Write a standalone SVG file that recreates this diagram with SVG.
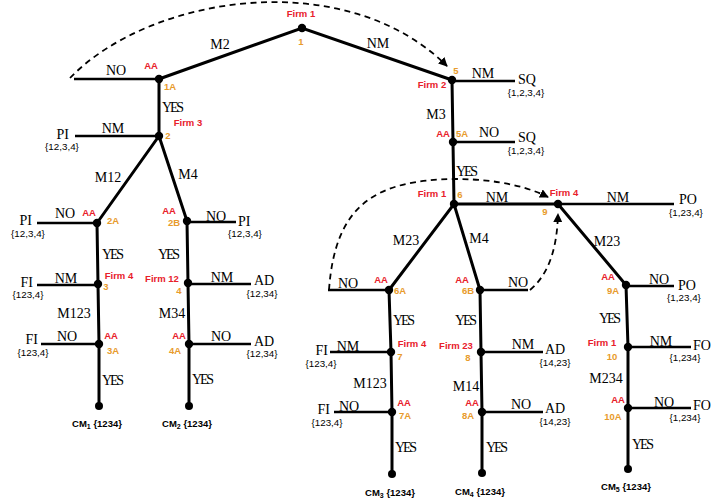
<svg xmlns="http://www.w3.org/2000/svg" width="714" height="501" viewBox="0 0 714 501">
<style>
  .e{stroke:#000;stroke-width:3;fill:none;stroke-linecap:round}
  .l{stroke:#000;stroke-width:2.5;fill:none}
  .d{stroke:#000;stroke-width:1.8;fill:none;stroke-dasharray:6 4.5}
  .dot{fill:#000}
  .t{font-family:"Liberation Serif","Times New Roman",serif;font-size:14px;fill:#000}
  .m{text-anchor:middle}
  .set{font-family:"Liberation Sans",Arial,sans-serif;font-size:9.8px;fill:#000;text-anchor:middle}
  .f{font-family:"Liberation Sans",Arial,sans-serif;font-size:9.5px;font-weight:bold;fill:#e8202a;text-anchor:middle}
  .n{font-family:"Liberation Sans",Arial,sans-serif;font-size:9.5px;font-weight:bold;fill:#e89b2c;text-anchor:middle}
  .cm{font-family:"Liberation Sans",Arial,sans-serif;font-size:9.5px;font-weight:bold;fill:#000;text-anchor:middle}
</style>
<defs>
  <marker id="ah" viewBox="0 0 10 10" refX="9" refY="5" markerWidth="5" markerHeight="5" orient="auto" markerUnits="strokeWidth">
    <path d="M0,0 L10,5 L0,10 z" fill="#000"/>
  </marker>
</defs>
<rect width="714" height="501" fill="#fff"/>

<g id="connectors">
  <!-- tree edges -->
  <path class="e" d="M159,79 L302,28 L452,80"/>
  <path class="e" d="M159,79 L159,136 M97,223 L159,136 L187,221"/>
  <path class="e" d="M97,223 L98,284 L99,344 L99,406"/>
  <path class="e" d="M187,221 L188,283 L189,344 L189,406"/>
  <path class="e" d="M452,80 L453,142 L454,204"/>
  <path class="e" d="M389,290 L454,204 L480,290"/>
  <path class="e" d="M389,290 L391,352 L392,412 L392,474"/>
  <path class="e" d="M480,290 L481,352 L482,412 L482,473"/>
  <path class="e" d="M454,204 L558,204 L626,285 L628,347 L628,408 L628,469"/>
  <!-- terminal branches -->
  <path class="l" d="M74,79 H159 M75,136 H159 M37,223 H97 M187,222 H236 M37,285 H98 M188,284 H251 M41,344 H99 M189,344 H251"/>
  <path class="l" d="M452,81 H515 M453,142 H515 M558,204 H674 M626,286 H674 M628,347 H691 M628,408 H691"/>
  <path class="l" d="M328,290 H389 M480,290 H528 M330,352 H391 M334,412 H392 M481,352 H543 M482,412 H543"/>
  <!-- information-set links -->
  <path class="d" marker-end="url(#ah)" d="M70,78 C150,-5 345,-35 447,66"/>
  <path class="d" marker-end="url(#ah)" d="M329,290 C335,205 375,180 455,179 C500,179 530,188 548,197"/>
  <path class="d" marker-end="url(#ah)" d="M530,290 C548,275 557,250 558,214"/>
  <!-- edge labels -->
  <text class="t m" x="220" y="49">M2</text>
  <text class="t m" x="378" y="48">NM</text>
  <text class="t m" x="116" y="75">NO</text>
  <text class="t m" x="173" y="112" textLength="22">YES</text>
  <text class="t m" x="113" y="133">NM</text>
  <text class="t m" x="108" y="182">M12</text>
  <text class="t m" x="188" y="179">M4</text>
  <text class="t m" x="65" y="218">NO</text>
  <text class="t m" x="216" y="221">NO</text>
  <text class="t m" x="113" y="259" textLength="22">YES</text>
  <text class="t m" x="169" y="259" textLength="22">YES</text>
  <text class="t m" x="66" y="283">NM</text>
  <text class="t m" x="222" y="282">NM</text>
  <text class="t m" x="74" y="318">M123</text>
  <text class="t m" x="172" y="318">M34</text>
  <text class="t m" x="67" y="341">NO</text>
  <text class="t m" x="221" y="341">NO</text>
  <text class="t m" x="113" y="385" textLength="22">YES</text>
  <text class="t m" x="203" y="384" textLength="22">YES</text>
  <text class="t m" x="483" y="78">NM</text>
  <text class="t m" x="436" y="119">M3</text>
  <text class="t m" x="489" y="137">NO</text>
  <text class="t m" x="467" y="176" textLength="22">YES</text>
  <text class="t m" x="497" y="202">NM</text>
  <text class="t m" x="618" y="202">NM</text>
  <text class="t m" x="406" y="245">M23</text>
  <text class="t m" x="479" y="243">M4</text>
  <text class="t m" x="607" y="246">M23</text>
  <text class="t m" x="348" y="288">NO</text>
  <text class="t m" x="518" y="287">NO</text>
  <text class="t m" x="659" y="284">NO</text>
  <text class="t m" x="404" y="325" textLength="22">YES</text>
  <text class="t m" x="466" y="325" textLength="22">YES</text>
  <text class="t m" x="610" y="323" textLength="22">YES</text>
  <text class="t m" x="348" y="351">NM</text>
  <text class="t m" x="523" y="349">NM</text>
  <text class="t m" x="661" y="346">NM</text>
  <text class="t m" x="370" y="388">M123</text>
  <text class="t m" x="466" y="391">M14</text>
  <text class="t m" x="606" y="383">M234</text>
  <text class="t m" x="349" y="411">NO</text>
  <text class="t m" x="521" y="409">NO</text>
  <text class="t m" x="664" y="407">NO</text>
  <text class="t m" x="406" y="452" textLength="22">YES</text>
  <text class="t m" x="497" y="452" textLength="22">YES</text>
  <text class="t m" x="643" y="449" textLength="22">YES</text>
</g>

<!-- decision nodes -->
<g id="node-1"><circle class="dot" cx="302" cy="28" r="4.2"/><text class="f" x="301" y="17">Firm 1</text><text class="n" x="301" y="45">1</text></g>
<g id="node-1A"><circle class="dot" cx="159" cy="79" r="4.2"/><text class="f" x="151" y="69">AA</text><text class="n" x="170" y="90">1A</text></g>
<g id="node-2"><circle class="dot" cx="159" cy="136" r="4.2"/><text class="f" x="188" y="126">Firm 3</text><text class="n" x="168" y="139">2</text></g>
<g id="node-2A"><circle class="dot" cx="97" cy="223" r="4.2"/><text class="f" x="89" y="216">AA</text><text class="n" x="113" y="224">2A</text></g>
<g id="node-2B"><circle class="dot" cx="187" cy="221" r="4.2"/><text class="f" x="169" y="214">AA</text><text class="n" x="174" y="226">2B</text></g>
<g id="node-3"><circle class="dot" cx="98" cy="284" r="4.2"/><text class="f" x="119" y="279">Firm 4</text><text class="n" x="106" y="290">3</text></g>
<g id="node-3A"><circle class="dot" cx="99" cy="344" r="4.2"/><text class="f" x="111" y="339">AA</text><text class="n" x="113" y="354">3A</text></g>
<g id="node-4"><circle class="dot" cx="188" cy="283" r="4.2"/><text class="f" x="162" y="282">Firm 12</text><text class="n" x="179" y="294">4</text></g>
<g id="node-4A"><circle class="dot" cx="189" cy="344" r="4.2"/><text class="f" x="179" y="339">AA</text><text class="n" x="175" y="354">4A</text></g>
<g id="node-5"><circle class="dot" cx="452" cy="80" r="4.2"/><text class="f" x="432" y="88">Firm 2</text><text class="n" x="456" y="74">5</text></g>
<g id="node-5A"><circle class="dot" cx="453" cy="142" r="4.2"/><text class="f" x="443" y="137">AA</text><text class="n" x="462" y="137">5A</text></g>
<g id="node-6"><circle class="dot" cx="454" cy="204" r="4.2"/><text class="f" x="432" y="197">Firm 1</text><text class="n" x="460" y="198">6</text></g>
<g id="node-6A"><circle class="dot" cx="389" cy="290" r="4.2"/><text class="f" x="381" y="283">AA</text><text class="n" x="400" y="294">6A</text></g>
<g id="node-6B"><circle class="dot" cx="480" cy="290" r="4.2"/><text class="f" x="462" y="283">AA</text><text class="n" x="468" y="294">6B</text></g>
<g id="node-7"><circle class="dot" cx="391" cy="352" r="4.2"/><text class="f" x="412" y="347">Firm 4</text><text class="n" x="400" y="360">7</text></g>
<g id="node-7A"><circle class="dot" cx="392" cy="412" r="4.2"/><text class="f" x="404" y="406">AA</text><text class="n" x="405" y="419">7A</text></g>
<g id="node-8"><circle class="dot" cx="481" cy="352" r="4.2"/><text class="f" x="456" y="349">Firm 23</text><text class="n" x="468" y="361">8</text></g>
<g id="node-8A"><circle class="dot" cx="482" cy="412" r="4.2"/><text class="f" x="472" y="406">AA</text><text class="n" x="468" y="419">8A</text></g>
<g id="node-9"><circle class="dot" cx="558" cy="204" r="4.2"/><text class="f" x="564" y="196">Firm 4</text><text class="n" x="545" y="215">9</text></g>
<g id="node-9A"><circle class="dot" cx="626" cy="285" r="4.2"/><text class="f" x="608" y="280">AA</text><text class="n" x="613" y="294">9A</text></g>
<g id="node-10"><circle class="dot" cx="628" cy="347" r="4.2"/><text class="f" x="602" y="346">Firm 1</text><text class="n" x="612" y="360">10</text></g>
<g id="node-10A"><circle class="dot" cx="628" cy="408" r="4.2"/><text class="f" x="618" y="403">AA</text><text class="n" x="613" y="420">10A</text></g>

<!-- terminal outcomes -->
<g id="cm1"><circle class="dot" cx="99" cy="406" r="4"/><text class="cm" x="97" y="427">CM<tspan font-size="7" dy="2">1</tspan><tspan dy="-2"> {1234}</tspan></text></g>
<g id="cm2"><circle class="dot" cx="189" cy="406" r="4"/><text class="cm" x="187" y="427">CM<tspan font-size="7" dy="2">2</tspan><tspan dy="-2"> {1234}</tspan></text></g>
<g id="cm3"><circle class="dot" cx="392" cy="474" r="4"/><text class="cm" x="390" y="496">CM<tspan font-size="7" dy="2">3</tspan><tspan dy="-2"> {1234}</tspan></text></g>
<g id="cm4"><circle class="dot" cx="482" cy="473" r="4"/><text class="cm" x="480" y="495">CM<tspan font-size="7" dy="2">4</tspan><tspan dy="-2"> {1234}</tspan></text></g>
<g id="cm5"><circle class="dot" cx="628" cy="469" r="4"/><text class="cm" x="626" y="490">CM<tspan font-size="7" dy="2">5</tspan><tspan dy="-2"> {1234}</tspan></text></g>

<g id="out-pi-1"><text class="t" x="69" y="139" text-anchor="end">PI</text><text class="set" x="62" y="150">{12,3,4}</text></g>
<g id="out-pi-2"><text class="t" x="32" y="225" text-anchor="end">PI</text><text class="set" x="28" y="237">{12,3,4}</text></g>
<g id="out-pi-3"><text class="t" x="238" y="226">PI</text><text class="set" x="245" y="237">{12,3,4}</text></g>
<g id="out-fi-1"><text class="t" x="33" y="287" text-anchor="end">FI</text><text class="set" x="28" y="298">{123,4}</text></g>
<g id="out-ad-1"><text class="t" x="254" y="285">AD</text><text class="set" x="262" y="297">{12,34}</text></g>
<g id="out-fi-2"><text class="t" x="38" y="344" text-anchor="end">FI</text><text class="set" x="33" y="356">{123,4}</text></g>
<g id="out-ad-2"><text class="t" x="254" y="346">AD</text><text class="set" x="262" y="357">{12,34}</text></g>
<g id="out-sq-1"><text class="t" x="518" y="84">SQ</text><text class="set" x="526" y="96">{1,2,3,4}</text></g>
<g id="out-sq-2"><text class="t" x="518" y="142">SQ</text><text class="set" x="526" y="154">{1,2,3,4}</text></g>
<g id="out-po-1"><text class="t" x="679" y="204">PO</text><text class="set" x="686" y="216">{1,23,4}</text></g>
<g id="out-po-2"><text class="t" x="678" y="290">PO</text><text class="set" x="684" y="301">{1,23,4}</text></g>
<g id="out-fi-3"><text class="t" x="328" y="355" text-anchor="end">FI</text><text class="set" x="321" y="367">{123,4}</text></g>
<g id="out-fi-4"><text class="t" x="330" y="414" text-anchor="end">FI</text><text class="set" x="327" y="426">{123,4}</text></g>
<g id="out-ad-3"><text class="t" x="545" y="354">AD</text><text class="set" x="555" y="366">{14,23}</text></g>
<g id="out-ad-4"><text class="t" x="545" y="413">AD</text><text class="set" x="555" y="425">{14,23}</text></g>
<g id="out-fo-1"><text class="t" x="693" y="350">FO</text><text class="set" x="685" y="361" text-anchor="start">{1,234}</text></g>
<g id="out-fo-2"><text class="t" x="693" y="410">FO</text><text class="set" x="685" y="421" text-anchor="start">{1,234}</text></g>
</svg>
